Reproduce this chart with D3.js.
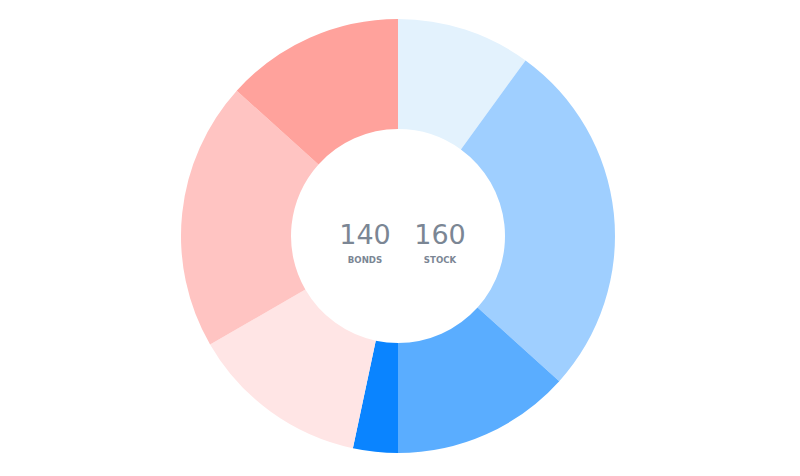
<!DOCTYPE html>
<html>
<head>
<meta charset="utf-8">
<script src="https://cdn.jsdelivr.net/npm/d3@7"></script>
<style>
  body { margin: 0; background: #fff; }
</style>
</head>
<body>
<div id="chart"></div>
<script>
// slice values, clockwise from 12 o'clock
const stockValues = [30, 80, 40, 10];
const bondValues = [40, 60, 40];
const stockColors = ["#e3f2fd", "#9fcfff", "#5aadff", "#0a84ff"];
const bondColors = ["#ffe5e5", "#ffc4c2", "#ffa29c"];
const summaryLabels = ["BONDS", "STOCK"];

const width = 800, height = 476;
const cx = 398, cy = 236,
    outer = 217, inner = 107;

const slices = stockValues.map((v, i) => ({ value: v, color: stockColors[i] }))
  .concat(bondValues.map((v, i) => ({ value: v, color: bondColors[i] })));

const svg = d3.select("#chart").append("svg")
    .attr("width", width)
    .attr("height", height)
  .append("g")
    .attr("transform", "translate(" + cx + "," + cy + ")");

const pie = d3.pie().sort(null).value(d => d.value);
const arc = d3.arc().innerRadius(inner).outerRadius(outer);

svg.selectAll("path")
    .data(pie(slices))
  .enter().append("path")
    .attr("d", arc)
    .style("fill", d => d.data.color);

const totals = [d3.sum(bondValues), d3.sum(stockValues)];
const x = d3.scalePoint().domain(summaryLabels).range([-33, 42]);

const gt = svg.selectAll("g.total")
    .data(summaryLabels)
  .enter().append("g")
    .attr("class", "total")
    .attr("transform", d => "translate(" + x(d) + ",0)");

gt.append("text")
    .attr("y", 8)
    .style("text-anchor", "middle")
    .style("font-family", "Verdana, 'DejaVu Sans', sans-serif")
    .style("font-size", "27px")
    .style("fill", "#7b8694")
    .text((d, i) => totals[i]);

gt.append("text")
    .attr("y", 27)
    .style("text-anchor", "middle")
    .style("font-family", "Verdana, 'DejaVu Sans', sans-serif")
    .style("font-size", "8.6px")
    .style("font-weight", "bold")
    .style("fill", "#7b8694")
    .text(d => d);
</script>
</body>
</html>
